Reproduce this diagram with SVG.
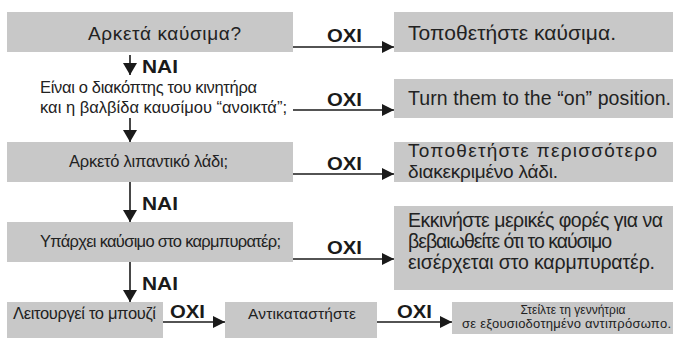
<svg xmlns="http://www.w3.org/2000/svg" width="674" height="338" viewBox="0 0 674 338">
<defs>
<marker id="ah" viewBox="0 0 12 12" refX="12" refY="6" markerWidth="12" markerHeight="12" markerUnits="userSpaceOnUse" orient="auto">
<path d="M0,0 L12,6 L0,12 Z" fill="#1a1a1a"/>
</marker>
<marker id="dh" viewBox="0 0 14 12" refX="7" refY="12" markerWidth="14" markerHeight="12" markerUnits="userSpaceOnUse" orient="0">
<path d="M0,0 L14,0 L7,12 Z" fill="#1a1a1a"/>
</marker>
</defs>
<style>
.box{fill:#c8c8c8;}
.t{font-family:"Liberation Sans",Arial,sans-serif;fill:#222;}
.s{font-size:16.5px;}
.l{font-size:19.5px;}
.xl{font-size:21px;}
.xs{font-size:12px;}
.b{font-family:"Liberation Sans",Arial,sans-serif;font-weight:bold;font-size:17.5px;fill:#1a1a1a;}
.c{stroke:#1a1a1a;stroke-width:1.6;fill:none;}
</style>
<g id="connectors">
<line class="c" x1="293" y1="47" x2="394" y2="47" marker-end="url(#ah)"/>
<line class="c" x1="293" y1="110" x2="394" y2="110" marker-end="url(#ah)"/>
<line class="c" x1="293" y1="174" x2="394" y2="174" marker-end="url(#ah)"/>
<line class="c" x1="293" y1="259" x2="394" y2="259" marker-end="url(#ah)"/>
<line class="c" x1="163" y1="322" x2="225" y2="322" marker-end="url(#ah)"/>
<line class="c" x1="377" y1="322" x2="452" y2="322" marker-end="url(#ah)"/>
<line class="c" x1="130" y1="55" x2="130" y2="75" marker-end="url(#dh)"/>
<line class="c" x1="130" y1="118" x2="130" y2="142" marker-end="url(#dh)"/>
<line class="c" x1="130" y1="182" x2="130" y2="222" marker-end="url(#dh)"/>
<line class="c" x1="130" y1="262" x2="130" y2="302" marker-end="url(#dh)"/>
<text class="b" x="327" y="42" textLength="35" lengthAdjust="spacingAndGlyphs">OXI</text>
<text class="b" x="327" y="106" textLength="35" lengthAdjust="spacingAndGlyphs">OXI</text>
<text class="b" x="327" y="170" textLength="35" lengthAdjust="spacingAndGlyphs">OXI</text>
<text class="b" x="327" y="254" textLength="35" lengthAdjust="spacingAndGlyphs">OXI</text>
<text class="b" x="170" y="318" textLength="35" lengthAdjust="spacingAndGlyphs">OXI</text>
<text class="b" x="397" y="318" textLength="35" lengthAdjust="spacingAndGlyphs">OXI</text>
<text class="b" x="142" y="73" textLength="36" lengthAdjust="spacingAndGlyphs">NAI</text>
<text class="b" x="142" y="210" textLength="36" lengthAdjust="spacingAndGlyphs">NAI</text>
<text class="b" x="142" y="290" textLength="36" lengthAdjust="spacingAndGlyphs">NAI</text>
</g>
<g id="q1">
<rect class="box" x="7" y="12" width="286" height="40"/>
<text class="t" style="font-size:19px" x="88" y="40" textLength="153">Αρκετά καύσιμα?</text>
</g>
<g id="q2">
<text class="t s" x="40" y="93" textLength="217">Είναι ο διακόπτης του κινητήρα</text>
<text class="t s" x="40" y="113" textLength="247">και η βαλβίδα καυσίμου “ανοικτά”;</text>
</g>
<g id="q3">
<rect class="box" x="7" y="142" width="286" height="40"/>
<text class="t s" x="69" y="167" textLength="159">Αρκετό λιπαντικό λάδι;</text>
</g>
<g id="q4">
<rect class="box" x="7" y="222" width="286" height="40"/>
<text class="t s" x="40" y="247" textLength="241">Υπάρχει καύσιμο στο καρμπυρατέρ;</text>
</g>
<g id="q5">
<rect class="box" x="7" y="302" width="156" height="36"/>
<text class="t s" x="13" y="319" textLength="143">Λειτουργεί το μπουζί</text>
</g>
<g id="a1">
<rect class="box" x="394" y="12" width="279" height="40"/>
<text class="t xl" x="408" y="40" textLength="208">Τοποθετήστε καύσιμα.</text>
</g>
<g id="a2">
<rect class="box" x="394" y="79" width="279" height="39"/>
<text class="t l" x="408" y="105" textLength="263">Turn them to the “on” position.</text>
</g>
<g id="a3">
<rect class="box" x="394" y="142" width="279" height="40"/>
<text class="t" style="font-size:19px" x="408" y="156.5" textLength="249">Τοποθετήστε περισσότερο</text>
<text class="t" style="font-size:19px" x="408" y="178" textLength="150">διακεκριμένο λάδι.</text>
</g>
<g id="a4">
<rect class="box" x="394" y="206" width="279" height="84"/>
<text class="t l" x="408" y="227" textLength="255">Εκκινήστε μερικές φορές για να</text>
<text class="t l" x="408" y="248" textLength="204">βεβαιωθείτε ότι το καύσιμο</text>
<text class="t l" x="408" y="269" textLength="247">εισέρχεται στο καρμπυρατέρ.</text>
</g>
<g id="a5">
<rect class="box" x="225" y="302" width="152" height="36"/>
<text class="t" style="font-size:15.5px" x="248" y="319" textLength="108">Αντικαταστήστε</text>
</g>
<g id="a6">
<rect class="box" x="452" y="302" width="221" height="32"/>
<text class="t xs" x="573" y="314" text-anchor="middle">Στείλτε τη γεννήτρια</text>
<text class="t" style="font-size:13px" x="462" y="328" textLength="209">σε εξουσιοδοτημένο αντιπρόσωπο.</text>
</g>
</svg>
